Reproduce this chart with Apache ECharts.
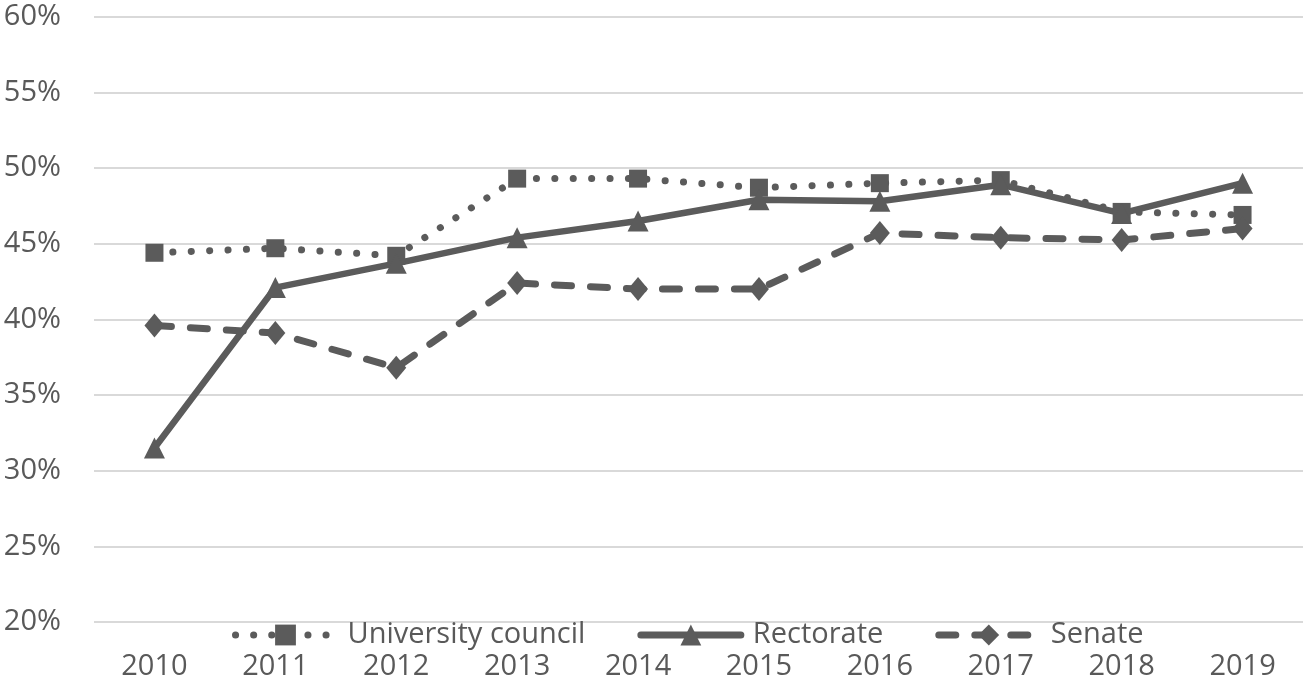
<!DOCTYPE html>
<html>
<head>
<meta charset="utf-8">
<script src="https://cdn.jsdelivr.net/npm/echarts@6/dist/echarts.min.js"></script>
<style>
html,body{margin:0;padding:0;background:#fff;}
#chart{width:1306px;height:682px;}
</style>
</head>
<body>
<div id="chart"></div>
<script>
const years = ['2010','2011','2012','2013','2014','2015','2016','2017','2018','2019'];
const universityCouncil = [44.4, 44.7, 44.2, 49.3, 49.3, 48.7, 49.0, 49.2, 47.1, 46.9];
const rectorate = [31.5, 42.1, 43.7, 45.4, 46.5, 47.9, 47.8, 48.9, 47.0, 49.0];
const senate = [39.6, 39.1, 36.8, 42.4, 42.0, 42.0, 45.7, 45.4, 45.25, 46.0];
const seriesNames = ['University council', 'Rectorate', 'Senate'];

const gray = '#5b5b5b';
const textColor = '#595959';
const font = 'Open Sans';

const dotted = { color: gray, width: 7, type: [0.1, 18.3], cap: 'round' };
const solid = { color: gray, width: 6.5, type: 'solid', cap: 'round' };
const dashed = { color: gray, width: 7, type: [17, 19], cap: 'round' };

const chart = echarts.init(document.getElementById('chart'));
chart.setOption({
  animation: false,
  backgroundColor: '#ffffff',
  grid: { left: 94, right: 3, top: 16.7, bottom: 60, containLabel: false },
  legend: {
    left: 232,
    top: 618,
    itemWidth: 100,
    itemHeight: 26,
    itemGap: 52,
    padding: 0,
    textStyle: { color: textColor, fontFamily: font, fontSize: 29, padding: [0, 0, 0, 7], lineHeight: 34 },
    data: [
      { name: seriesNames[0], lineStyle: { width: 7, type: [0.1, 18], cap: 'round' } },
      { name: seriesNames[1], lineStyle: { width: 7, type: 'solid', cap: 'round' } },
      { name: seriesNames[2], lineStyle: { width: 7, type: [17, 19], cap: 'round', dashOffset: 0 } }
    ]
  },
  xAxis: {
    type: 'category',
    data: years,
    boundaryGap: true,
    axisLine: { show: false },
    axisTick: { show: false },
    axisLabel: { color: textColor, fontFamily: font, fontSize: 29, margin: 30 }
  },
  yAxis: {
    type: 'value',
    min: 20, max: 60, interval: 5,
    axisLine: { show: false },
    axisTick: { show: false },
    splitLine: { lineStyle: { color: '#d9d9d9', width: 2 } },
    axisLabel: { color: textColor, fontFamily: font, fontSize: 29, margin: 33, formatter: '{value}%' }
  },
  series: [
    {
      name: seriesNames[0], type: 'line', data: universityCouncil,
      symbol: 'rect', symbolSize: 18,
      itemStyle: { color: gray },
      lineStyle: dotted
    },
    {
      name: seriesNames[1], type: 'line', data: rectorate,
      symbol: 'triangle', symbolSize: 21,
      itemStyle: { color: gray },
      lineStyle: solid
    },
    {
      name: seriesNames[2], type: 'line', data: senate,
      symbol: 'diamond', symbolSize: [20, 24],
      itemStyle: { color: gray },
      lineStyle: dashed
    }
  ]
});
</script>
</body>
</html>
